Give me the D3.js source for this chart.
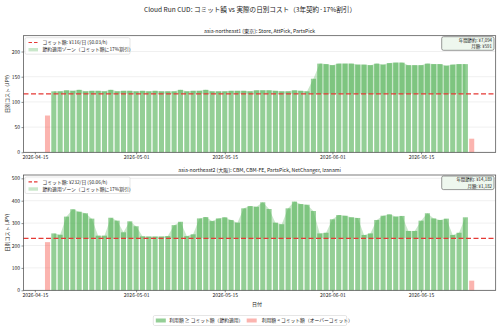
<!DOCTYPE html>
<html><head><meta charset="utf-8">
<script src="https://cdn.jsdelivr.net/npm/d3@7"></script>
<style>body{margin:0;background:#fff}svg{display:block}text{font-family:"Noto Sans CJK JP","Noto Sans",sans-serif;fill:#222}</style>
</head><body>
<script>
const dates = ["2026-04-17","2026-04-18","2026-04-19","2026-04-20","2026-04-21","2026-04-22","2026-04-23","2026-04-24","2026-04-25","2026-04-26","2026-04-27","2026-04-28","2026-04-29","2026-04-30","2026-05-01","2026-05-02","2026-05-03","2026-05-04","2026-05-05","2026-05-06","2026-05-07","2026-05-08","2026-05-09","2026-05-10","2026-05-11","2026-05-12","2026-05-13","2026-05-14","2026-05-15","2026-05-16","2026-05-17","2026-05-18","2026-05-19","2026-05-20","2026-05-21","2026-05-22","2026-05-23","2026-05-24","2026-05-25","2026-05-26","2026-05-27","2026-05-28","2026-05-29","2026-05-30","2026-05-31","2026-06-01","2026-06-02","2026-06-03","2026-06-04","2026-06-05","2026-06-06","2026-06-07","2026-06-08","2026-06-09","2026-06-10","2026-06-11","2026-06-12","2026-06-13","2026-06-14","2026-06-15","2026-06-16","2026-06-17","2026-06-18","2026-06-19","2026-06-20","2026-06-21","2026-06-22","2026-06-23"];
const tokyoCost = [73,
 121,121,123,122,124,121,122,122,121,124,121,122,122,121,122,121,122,121,121,
 121,124,121,122,122,124,121,121,121,122,122,122,121,123,123,123,122,121,121,123,122,121,146,
 176,175,173,176,176,176,174,174,173,176,174,177,178,178,173,173,173,176,175,175,172,174,175,175,
 27];
const osakaCost = [215,
 254,248,329,362,351,344,320,244,244,324,311,259,308,286,241,240,240,240,
 242,291,306,242,250,321,327,309,321,326,314,302,366,376,373,393,363,302,295,366,396,385,382,354,254,257,317,336,
 333,326,323,247,254,314,333,339,329,332,265,265,311,344,321,314,320,247,257,326,
 43];
const commits = [116, 232];
const commitLabels = ["コミット額: ¥116/日 ($0.03/h)", "コミット額: ¥232/日 ($0.06/h)"];
const savingsLabels = [["年間節約: ¥7,094","月額: ¥591"],["年間節約: ¥14,189","月額: ¥1,182"]];
const panelTitles = ["asia-northeast1 (東京): Store, AttPick, PartsPick","asia-northeast2 (大阪): CBM, CBM-FE, PartsPick, NetChanger, Izanami"];
const yTicks = [[0,50,100,150,200],[0,100,200,300,400,500]];
const xTickDates = ["2026-04-15","2026-05-01","2026-05-15","2026-06-01","2026-06-15"];
const zoneLabel = "節約適用ゾーン（コミット額に17%割引）";
const legendLabels = ["利用額 ≥ コミット額（節約適用）","利用額 < コミット額（オーバーコミット）"];
const mainTitle = "Cloud Run CUD: コミット額 vs 実際の日別コスト（3年契約·17%割引）";

const W=500,H=329;
const svg=d3.select("body").append("svg").attr("width",W).attr("height",H);
svg.append("rect").attr("width",W).attr("height",H).attr("fill","#fff");
const parse=d3.utcParse("%Y-%m-%d");
const ds=dates.map(parse);
const DAY=86400000;
const greenBar="rgba(76,175,80,0.6)", redBar="rgba(244,67,54,0.4)", fillZone="rgba(76,175,80,0.3)";
const first=+ds[0]-0.4*DAY, last=+ds[ds.length-1]+0.4*DAY, span=last-first;
const x=d3.scaleUtc().domain([new Date(first-0.05*span),new Date(last+0.05*span)]).range([23.5,495.7]);
const panels=[{top:35.7,bot:152.3,vals:tokyoCost},{top:175,bot:290.3,vals:osakaCost}];
svg.append("text").attr("x",250).attr("y",12).attr("text-anchor","middle").attr("font-size",6.6).text(mainTitle);

panels.forEach((p,i)=>{
  const vals=p.vals, c=commits[i];
  const y=d3.scaleLinear().domain([0,d3.max(vals)*1.3]).range([p.bot,p.top]);
  const g=svg.append("g");
  g.selectAll(".gl").data(yTicks[i]).join("line").attr("x1",23.5).attr("x2",495.7)
   .attr("y1",d=>y(d)).attr("y2",d=>y(d)).attr("stroke","#e6e6e6").attr("stroke-width",0.6);
  const bw=x(new Date(+ds[0]+0.8*DAY))-x(ds[0]);
  g.selectAll(".bar").data(vals).join("rect")
   .attr("x",(d,j)=>x(ds[j])-bw/2).attr("width",bw)
   .attr("y",d=>y(d)).attr("height",d=>y(0)-y(d))
   .attr("fill",d=>d>=c?greenBar:redBar);
  const pts=vals.map((v,j)=>({d:ds[j],v,ok:v>=c}));
  const area=d3.area().defined(d=>d.ok).x(d=>x(d.d)).y0(y(c)).y1(d=>y(d.v));
  g.append("path").attr("d",area(pts)).attr("fill",fillZone);
  g.append("line").attr("x1",23.5).attr("x2",495.7).attr("y1",y(c)).attr("y2",y(c))
   .attr("stroke","#e53935").attr("stroke-width",1.2).attr("stroke-dasharray","5,2.5");
  g.append("rect").attr("x",23.5).attr("y",p.top).attr("width",495.7-23.5).attr("height",p.bot-p.top)
   .attr("fill","none").attr("stroke","#444").attr("stroke-width",0.7);
  const ya=g.append("g").attr("transform","translate(23.5,0)").call(d3.axisLeft(y).tickValues(yTicks[i]).tickSize(2).tickPadding(1.5));
  ya.select(".domain").remove();
  ya.selectAll("text").attr("font-size",5).attr("fill","#222");
  ya.selectAll("line").attr("stroke","#444").attr("stroke-width",0.6);
  const xa=g.append("g").attr("transform",`translate(0,${p.bot})`).call(d3.axisBottom(x).tickValues(xTickDates.map(parse)).tickFormat(d3.utcFormat("%Y-%m-%d")).tickSize(2).tickPadding(1.5));
  xa.select(".domain").remove();
  xa.selectAll("text").attr("font-size",5).attr("fill","#222");
  xa.selectAll("line").attr("stroke","#444").attr("stroke-width",0.6);
  svg.append("text").attr("x",259.6).attr("y",p.top-3.2).attr("text-anchor","middle").attr("font-size",5.1).text(panelTitles[i]);
  svg.append("text").attr("transform",`translate(9,${(p.top+p.bot)/2}) rotate(-90)`).attr("text-anchor","middle").attr("font-size",5).text("日別コスト (JPY)");
  const lg=svg.append("g").attr("transform",`translate(25,${p.top+2})`);
  lg.append("rect").attr("width",105).attr("height",16.5).attr("rx",1.5).attr("fill","rgba(255,255,255,0.85)").attr("stroke","#ccc").attr("stroke-width",0.5);
  lg.append("line").attr("x1",3.5).attr("x2",13).attr("y1",4.8).attr("y2",4.8).attr("stroke","#e53935").attr("stroke-width",1.2).attr("stroke-dasharray","3.5,2");
  lg.append("text").attr("x",17.5).attr("y",6.5).attr("font-size",4.8).text(commitLabels[i]);
  lg.append("rect").attr("x",3.5).attr("y",10.3).attr("width",9.5).attr("height",3.4).attr("fill",fillZone);
  lg.append("text").attr("x",17.5).attr("y",13.8).attr("font-size",4.8).text(zoneLabel);
  const sb=svg.append("g");
  sb.append("rect").attr("x",441.7).attr("y",p.top+1).attr("width",52.3).attr("height",13.6).attr("rx",1.8)
    .attr("fill","#eef7ee").attr("stroke","#555").attr("stroke-width",0.6);
  sb.append("text").attr("x",492).attr("y",p.top+6.4).attr("text-anchor","end").attr("font-size",4.4).text(savingsLabels[i][0]);
  sb.append("text").attr("x",492).attr("y",p.top+12.6).attr("text-anchor","end").attr("font-size",4.4).text(savingsLabels[i][1]);
});
svg.append("text").attr("x",257).attr("y",305.5).attr("text-anchor","middle").attr("font-size",5).text("日付");
const bl=svg.append("g").attr("transform","translate(153.3,315.5)");
bl.append("rect").attr("width",193.4).attr("height",10).attr("rx",1.5).attr("fill","#fff").attr("stroke","#ccc").attr("stroke-width",0.5);
bl.append("rect").attr("x",2.5).attr("y",3).attr("width",10).attr("height",4).attr("fill",greenBar);
bl.append("text").attr("x",16).attr("y",6.9).attr("font-size",4.8).text(legendLabels[0]);
bl.append("rect").attr("x",93.4).attr("y",3).attr("width",10).attr("height",4).attr("fill",redBar);
bl.append("text").attr("x",108.4).attr("y",6.9).attr("font-size",4.8).text(legendLabels[1]);
</script>
</body></html>
